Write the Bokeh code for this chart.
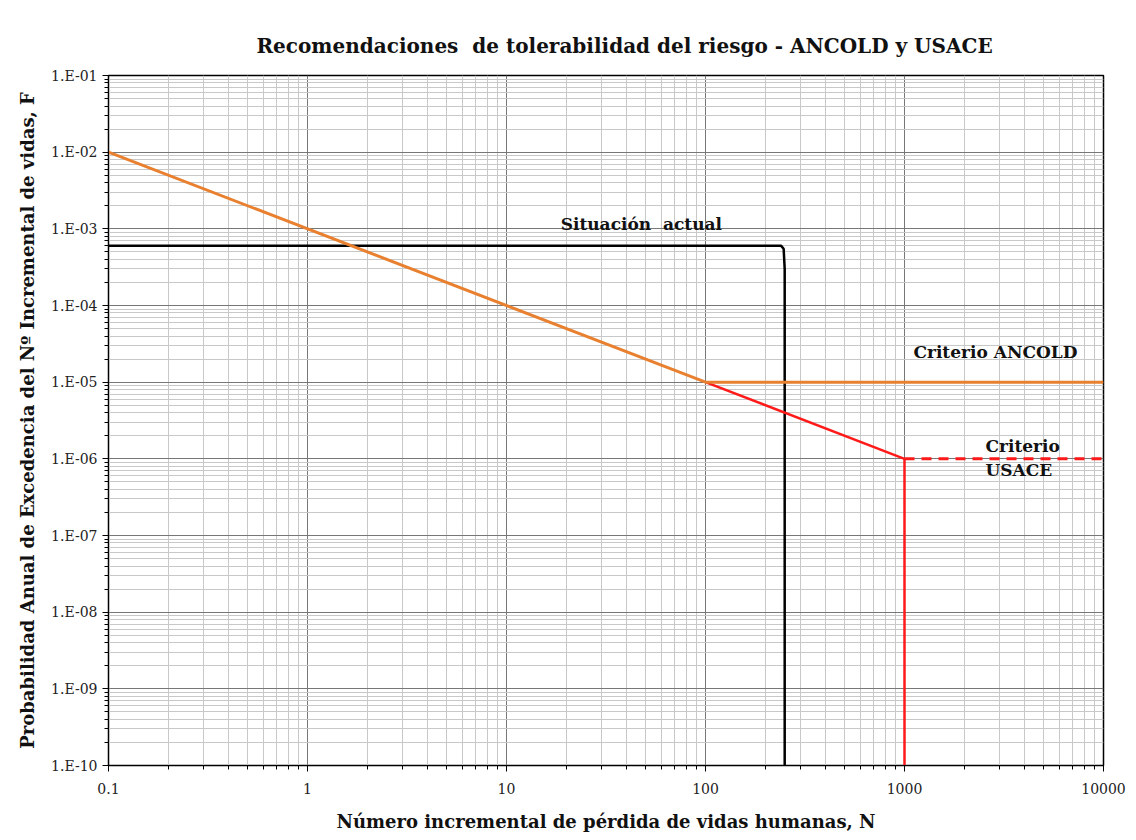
from bokeh.plotting import figure
from bokeh.models import FixedTicker, CustomJSTickFormatter, Label
from bokeh.embed import file_html
from bokeh.resources import INLINE

# ---- data ----
title_text = "Recomendaciones\u00a0 de tolerabilidad del riesgo - ANCOLD y USACE"
x_label = "Número incremental de pérdida de vidas humanas, N"
y_label = "Probabilidad Anual de Excedencia del Nº Incremental de vidas, F"

x_major = [0.1, 1, 10, 100, 1000, 10000]
y_major = [1e-10, 1e-9, 1e-8, 1e-7, 1e-6, 1e-5, 1e-4, 1e-3, 1e-2, 1e-1]

actual_n = [0.1, 240, 247, 250, 250]
actual_f = [6e-4, 6e-4, 5.5e-4, 3e-4, 1e-10]

ancold_n = [0.1, 100, 10000]
ancold_f = [1e-2, 1e-5, 1e-5]

usace_n = [100, 1000]
usace_f = [1e-5, 1e-6]

usace_vert_n = [1000, 1000]
usace_vert_f = [1e-6, 1e-10]

usace_dash_n = [1000, 10000]
usace_dash_f = [1e-6, 1e-6]

SERIF = "DejaVu Serif"
ORANGE = "#E8802F"
RED = "#FF1A1A"

def minor_of(majors):
    out = []
    for m in majors[:-1]:
        for k in range(2, 10):
            out.append(m * k)
    return out

p = figure(
    x_axis_type="log", y_axis_type="log",
    x_range=(0.1, 10000), y_range=(1e-10, 1e-1),
    frame_width=995, frame_height=690,
    min_border_left=108, min_border_right=25,
    min_border_top=75, min_border_bottom=65,
    output_backend="svg", toolbar_location=None,
    title=title_text,
)
p.title.align = "left"
p.title.offset = 148
p.title.text_font = SERIF
p.title.text_font_style = "bold"
p.title.text_font_size = "20px"
p.title.text_color = "#111111"
p.title.standoff = 36

p.xaxis.ticker = FixedTicker(ticks=x_major, minor_ticks=minor_of(x_major))
p.yaxis.ticker = FixedTicker(ticks=y_major, minor_ticks=minor_of(y_major))
p.xaxis.formatter = CustomJSTickFormatter(code="return tick < 1 ? tick.toFixed(1) : tick.toFixed(0);")
p.yaxis.formatter = CustomJSTickFormatter(code="""
const e = Math.round(Math.log10(tick));
const a = Math.abs(e);
return '1.E' + (e < 0 ? '-' : '+') + (a < 10 ? '0' : '') + a;
""")

for ax in (p.xaxis[0], p.yaxis[0]):
    ax.major_label_text_font = SERIF
    ax.major_label_text_font_size = "14px"
    ax.major_label_text_color = "#222222"
    ax.axis_label_text_font = SERIF
    ax.axis_label_text_font_style = "bold"
    ax.axis_label_text_color = "#111111"
    ax.axis_line_color = "black"
    ax.major_tick_line_color = "black"
    ax.minor_tick_line_color = "black"
    ax.major_tick_out = 6
    ax.minor_tick_out = 4
    ax.major_tick_in = 0
    ax.minor_tick_in = 0

p.xaxis.axis_label = x_label
p.yaxis.axis_label = y_label
p.xaxis.axis_label_text_font_size = "18px"
p.yaxis.axis_label_text_font_size = "18px"
p.xaxis.major_label_standoff = 11
p.xaxis.axis_label_standoff = 14
p.yaxis.major_label_standoff = 5
p.yaxis.axis_label_standoff = 10

for g in (p.xgrid[0], p.ygrid[0]):
    g.grid_line_color = "#777777"
    g.grid_line_width = 1
    g.minor_grid_line_color = "#c8c8c8"
    g.minor_grid_line_width = 1

p.outline_line_color = "black"
p.outline_line_width = 1.5
p.background_fill_color = "white"
p.border_fill_color = "white"

p.line(actual_n, actual_f, line_color="black", line_width=2.5)
p.line(usace_n, usace_f, line_color=RED, line_width=2.5)
p.line(usace_vert_n, usace_vert_f, line_color=RED, line_width=2.5)
p.line(usace_dash_n, usace_dash_f, line_color=RED, line_width=3, line_dash="10 7")
p.line(ancold_n, ancold_f, line_color=ORANGE, line_width=3)

def lab(x, y, t, align="center", size="17px"):
    p.add_layout(Label(x=x, y=y, text=t, text_font=SERIF, text_font_style="bold",
                       text_font_size=size, text_color="#111111",
                       text_align=align, text_baseline="middle"))

lab(47.6, 1.17e-3, "Situación\u00a0 actual")
lab(2864, 2.45e-5, "Criterio ANCOLD")
lab(2553, 1.46e-6, "Criterio", align="left")
lab(2553, 7.1e-7, "USACE", align="left")

open("out.html", "w").write(file_html(p, INLINE))
